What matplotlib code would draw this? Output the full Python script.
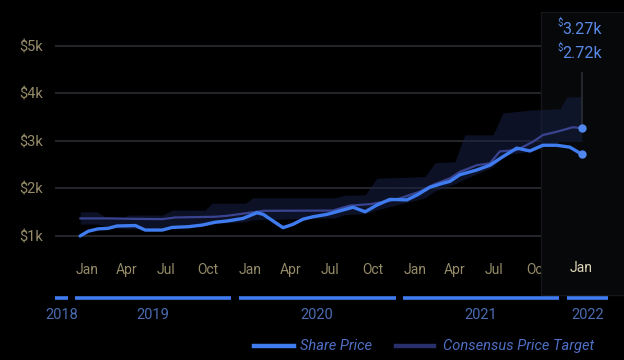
import matplotlib
matplotlib.use("Agg")
import matplotlib.pyplot as plt
import matplotlib.dates as mdates
import matplotlib.transforms as mtransforms
from matplotlib.patches import Rectangle
from matplotlib.lines import Line2D
import pandas as pd

plt.rcParams['font.family'] = ['Roboto', 'DejaVu Sans']

# ---------------- data ----------------
share_dates = ["2019-01-21", "2019-02-08", "2019-03-02", "2019-03-24", "2019-04-13", "2019-05-24",
               "2019-06-15", "2019-07-23", "2019-08-14", "2019-09-19", "2019-10-20", "2019-11-18",
               "2019-12-14", "2020-01-19", "2020-02-19", "2020-03-04", "2020-03-26", "2020-04-17",
               "2020-05-09", "2020-06-01", "2020-06-23", "2020-07-24", "2020-08-22", "2020-09-20",
               "2020-10-17", "2020-11-12", "2020-12-11", "2021-01-18", "2021-02-10", "2021-03-10",
               "2021-04-08", "2021-04-24", "2021-05-16", "2021-06-23", "2021-07-22", "2021-08-20",
               "2021-09-20", "2021-10-19", "2021-11-17", "2021-12-18", "2022-01-16", "2022-02-12"]
share_price = [1000, 1100, 1150, 1160, 1210, 1220,
               1125, 1125, 1180, 1195, 1230, 1290,
               1315, 1370, 1490, 1455, 1315, 1175,
               1245, 1355, 1405, 1455, 1530, 1605,
               1510, 1650, 1770, 1760, 1865, 2025,
               2110, 2150, 2290, 2390, 2490, 2670,
               2850, 2790, 2910, 2910, 2870, 2720]

target_dates = ["2019-01-21", "2019-03-24", "2019-05-24", "2019-07-23", "2019-08-21", "2019-11-18",
                "2019-12-14", "2020-02-19", "2020-03-04", "2020-08-06", "2020-09-13", "2020-10-28",
                "2020-12-11", "2021-01-03", "2021-02-16", "2021-03-17", "2021-04-24", "2021-05-16",
                "2021-06-23", "2021-07-22", "2021-08-13", "2021-09-20", "2021-10-26", "2021-11-17",
                "2021-12-18", "2022-01-23", "2022-02-12"]
target_price = [1370, 1370, 1360, 1355, 1390, 1405,
                1425, 1510, 1530, 1535, 1640, 1670,
                1740, 1795, 1935, 2075, 2215, 2350,
                2490, 2530, 2780, 2810, 2985, 3125,
                3195, 3290, 3270]

band_dates = ["2019-01-21", "2019-02-28", "2019-03-18", "2019-05-01", "2019-05-08", "2019-07-23",
              "2019-08-14", "2019-10-26", "2019-11-11", "2020-01-24", "2020-02-10", "2020-08-11",
              "2020-09-02", "2020-10-17", "2020-11-12", "2021-02-27", "2021-03-22", "2021-05-05",
              "2021-05-27", "2021-07-29", "2021-08-20", "2021-10-19", "2021-12-25", "2022-01-10",
              "2022-02-12"]
band_high = [1510, 1510, 1400, 1400, 1440, 1440,
             1545, 1545, 1690, 1690, 1805, 1805,
             1860, 1865, 2215, 2250, 2545, 2560,
             3130, 3130, 3590, 3650, 3680, 3930,
             3930]
band_low = [1250, 1250, 1200, 1150, 1150, 1150,
            1200, 1220, 1260, 1300, 1340, 1380,
            1450, 1470, 1550, 1800, 1950, 2100,
            2200, 2450, 2700, 2780, 2990, 2990,
            2990]

y_ticks = [1000, 2000, 3000, 4000, 5000]
y_tick_labels = ["$1k", "$2k", "$3k", "$4k", "$5k"]
month_labels = {1: "Jan", 4: "Apr", 7: "Jul", 10: "Oct"}
years = [2018, 2019, 2020, 2021, 2022]
legend_labels = ["Share Price", "Consensus Price Target"]

# ---------------- styling ----------------
BG = "#000000"
SHARE_C = "#3f7cf0"
TARGET_C = "#39438f"
BAND_C = "#18224a"
TICK_C = "#958b69"
YEAR_C = "#4b6cb0"
LEG_TXT = "#4e6fc4"
GRID_C = "#25272b"

sd = pd.to_datetime(share_dates)
td = pd.to_datetime(target_dates)
bd = pd.to_datetime(band_dates)

W, H = 624, 360
fig = plt.figure(figsize=(W / 100, H / 100), dpi=100, facecolor=BG)
ax_l, ax_r, ax_t, ax_b = 55, 612, 20, 250
ax = fig.add_axes([ax_l / W, 1 - ax_b / H, (ax_r - ax_l) / W, (ax_b - ax_t) / H])
ax.set_facecolor(BG)

x_left = pd.Timestamp("2018-11-26")
x_right = pd.Timestamp("2022-04-20")
last_label = pd.Timestamp("2022-01-01")
ax.set_xlim(x_left, x_right)
ax.set_ylim(705, 5547)

for s in ax.spines.values():
    s.set_visible(False)

ax.set_yticks(y_ticks)
ax.set_yticklabels(y_tick_labels)
ax.tick_params(axis='y', length=0, pad=9, labelcolor=TICK_C, labelsize=10.5)
ax.set_xticks([])
ax.yaxis.grid(True, color=GRID_C, lw=1.4)
ax.set_axisbelow(True)

def yfrac(py):
    return (ax_b - py) / (ax_b - ax_t)

bt = mtransforms.blended_transform_factory(ax.transData, ax.transAxes)
off = mtransforms.ScaledTranslation(4 / 100, 0, fig.dpi_scale_trans)
off_hl = mtransforms.ScaledTranslation(7 / 100, 0, fig.dpi_scale_trans)

# month labels
hl_start = pd.Timestamp("2021-11-13")
for y in [2019, 2020, 2021, 2022]:
    for m, lab in month_labels.items():
        d = pd.Timestamp(year=y, month=m, day=1)
        if d > last_label:
            continue
        if d >= hl_start:
            ax.text(d, yfrac(268), lab, transform=bt + off_hl, ha='left', va='center',
                    color="#ddd6b8", fontsize=10, clip_on=False, zorder=6)
        else:
            ax.text(d, yfrac(270), lab, transform=bt + off, ha='left', va='center',
                    color=TICK_C, fontsize=10, clip_on=False, zorder=1.5)

# highlight region
hx0 = mdates.date2num(hl_start)
hx1 = mdates.date2num(x_right)
ax.add_patch(Rectangle((hx0, yfrac(295)), hx1 - hx0 + 30, yfrac(12) - yfrac(295), transform=bt,
                       facecolor="#070809", edgecolor="#151619", lw=1, clip_on=False, zorder=2))

# band, lines
ax.fill_between(bd, band_low, band_high, color=BAND_C, alpha=0.5, lw=0, zorder=2.5)
ax.plot(td, target_price, color=TARGET_C, lw=1.6, zorder=3, solid_capstyle='round')
ax.plot(sd, share_price, color=SHARE_C, lw=2.4, zorder=4, solid_joinstyle='round', solid_capstyle='round')

# vertical marker line and end dots
ax.plot([td[-1], td[-1]], [target_price[-1], 4430], color="#2b2d33", lw=1.2, zorder=3.5)
ax.scatter([td[-1]], [target_price[-1]], s=36, color="#5287ee", zorder=5, lw=0)
ax.scatter([sd[-1]], [share_price[-1]], s=36, color="#5287ee", zorder=5, lw=0)

# value labels
for val, py in [(target_price[-1], 29), (share_price[-1], 54)]:
    fig.text(562 / W, 1 - py / H, f"{val / 1000:.2f}k", ha='left', va='center',
             color="#5a8ae8", fontsize=11.5)
    fig.text(557 / W, 1 - (py - 6) / H, "$", ha='left', va='center', color="#5a8ae8", fontsize=7)

# year bars and labels
gap = pd.Timedelta(days=8)
for y in years:
    s = max(pd.Timestamp(year=y, month=1, day=1) + gap, x_left)
    e = min(pd.Timestamp(year=y + 1, month=1, day=1) - gap, x_right - gap)
    ax.plot([s, e], [yfrac(298)] * 2, transform=bt, color=SHARE_C, lw=2.6,
            clip_on=False, zorder=3, solid_capstyle='butt')
    mid = s + (e - s) / 2
    ax.text(mid, yfrac(315), str(y), transform=bt, ha='center', va='center',
            color=YEAR_C, fontsize=10.5, clip_on=False)

# legend
ly = 1 - 346 / H
fig.add_artist(Line2D([254 / W, 294 / W], [ly, ly], color=SHARE_C, lw=3.2))
fig.text(300 / W, ly, legend_labels[0], ha='left', va='center', color=LEG_TXT,
         fontsize=10.5, style='italic')
fig.add_artist(Line2D([396 / W, 434 / W], [ly, ly], color="#27306a", lw=3.2))
fig.text(443 / W, ly, legend_labels[1], ha='left', va='center', color=LEG_TXT,
         fontsize=10.5, style='italic')

fig.savefig("out.png", dpi=100, facecolor=BG)
